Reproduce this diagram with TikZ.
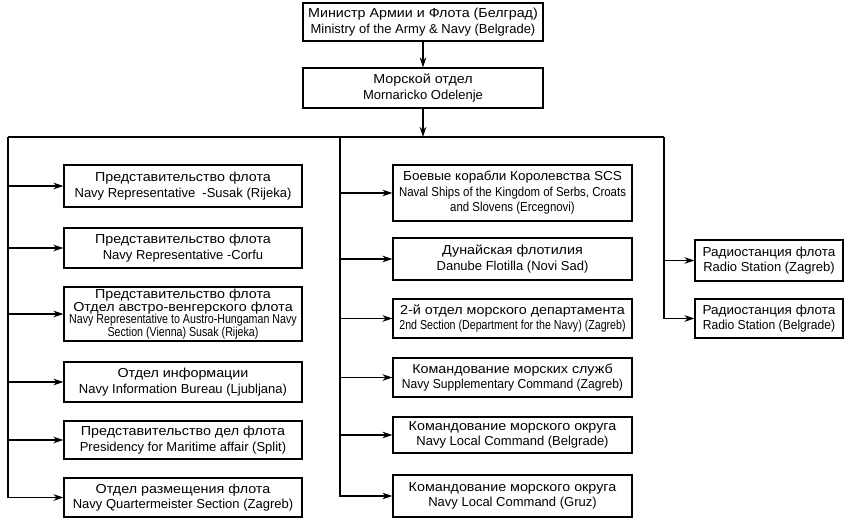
\documentclass[tikz,border=0pt]{standalone}
\usepackage{fontspec}
\setmainfont{Liberation Sans}
\newfontfamily\cyr[FakeStretch=1.1]{Liberation Sans}
\newfontfamily\cyrb[FakeStretch=1.04]{Liberation Sans}
\newfontfamily\narrowfont[FakeStretch=0.82]{Liberation Sans}
\newfontfamily\narrowb[FakeStretch=0.88]{Liberation Sans}
\newfontfamily\semifont[FakeStretch=0.93]{Liberation Sans}
\usetikzlibrary{arrows.meta}
\begin{document}
\begin{tikzpicture}[x=1pt,y=-1pt,
  box/.style={draw, line width=1.1pt, inner sep=0pt, align=center,
    font=\fontsize{13}{15.5}\selectfont},
  arr/.style={line width=1.1pt, -{Stealth[length=10pt,width=6.5pt]}},
  bus/.style={line width=1.1pt}]
\useasboundingbox (0,0) rectangle (845,522);
\fill[white] (0,0) rectangle (845,522);

\node[box, minimum width=240pt, minimum height=38pt] (top) at (423,22)
  {{\cyr Министр Армии и Флота (Белград)}\\Ministry of the Army \& Navy (Belgrade)};
\node[box, minimum width=240pt, minimum height=40pt] (sec) at (423,88)
  {{\cyr Морской отдел}\\Mornaricko Odelenje};

\coordinate (lb) at (8,137);
\coordinate (mb) at (340,137);
\coordinate (rb) at (664,137);

% left column
\node[box, minimum width=238pt, minimum height=42pt] (L1) at (183,186)
  {{\cyr Представительство флота}\\Navy Representative \ -Susak (Rijeka)};
\node[box, minimum width=238pt, minimum height=40pt] (L2) at (183,248)
  {{\cyr Представительство флота}\\Navy Representative -Corfu};
\node[box, minimum width=238pt, minimum height=54pt, font=\fontsize{13}{12.5}\selectfont] (L3) at (183,314)
  {{\cyr Представительство флота}\\{\cyr Отдел австро-венгерского флота}\\{\narrowfont Navy Representative to Austro-Hungaman Navy}\\{\narrowfont Section (Vienna) Susak (Rijeka)}};
\node[box, minimum width=238pt, minimum height=40pt] (L4) at (183,382)
  {{\cyr Отдел информации}\\Navy Information Bureau (Ljubljana)};
\node[box, minimum width=238pt, minimum height=38pt] (L5) at (183,440)
  {{\cyr Представительство дел флота}\\Presidency for Maritime affair (Split)};
\node[box, minimum width=238pt, minimum height=39pt] (L6) at (183,497.5)
  {{\cyr Отдел размещения флота}\\Navy Quartermeister Section (Zagreb)};

% middle column
\node[box, minimum width=239pt, minimum height=56pt] (M1) at (512.5,193)
  {{\cyrb Боевые корабли Королевства SCS}\\{\narrowb Naval Ships of the Kingdom of Serbs, Croats}\\{\narrowb and Slovens (Ercegnovi)}};
\node[box, minimum width=239pt, minimum height=42pt] (M2) at (512.5,259)
  {{\cyr Дунайская флотилия}\\Danube Flotilla (Novi Sad)};
\node[box, minimum width=239pt, minimum height=39pt] (M3) at (512.5,318.5)
  {{\cyr 2-й отдел морского департамента}\\{\narrowfont 2nd Section (Department for the Navy) (Zagreb)}};
\node[box, minimum width=239pt, minimum height=39pt] (M4) at (512.5,377.5)
  {{\cyr Командование морских служб}\\{\semifont Navy Supplementary Command (Zagreb)}};
\node[box, minimum width=239pt, minimum height=36pt] (M5) at (512.5,435)
  {{\cyr Командование морского округа}\\Navy Local Command (Belgrade)};
\node[box, minimum width=239pt, minimum height=42pt] (M6) at (512.5,496)
  {{\cyr Командование морского округа}\\Navy Local Command (Gruz)};

% right column
\node[box, minimum width=148pt, minimum height=41pt] (R1) at (769,260.5)
  {{\cyrb Радиостанция флота}\\Radio Station (Zagreb)};
\node[box, minimum width=148pt, minimum height=39pt] (R2) at (769,318.5)
  {{\cyrb Радиостанция флота}\\{\semifont Radio Station (Belgrade)}};

% connectors
\draw[arr] (top) -- (sec);
\draw[arr] (sec) -- (sec.south |- lb);
\draw[bus] (lb) -- (rb);

\draw[arr] (lb) |- (L6.west);
\foreach \n in {L1,L2,L3,L4,L5}
  \draw[arr] (\n.west -| lb) -- (\n.west);

\draw[arr] (mb) |- (M6.west);
\foreach \n in {M1,M2,M3,M4,M5}
  \draw[arr] (\n.west -| mb) -- (\n.west);

\draw[arr] (rb) |- (R2.west);
\draw[arr] (R1.west -| rb) -- (R1.west);
\end{tikzpicture}
\end{document}
